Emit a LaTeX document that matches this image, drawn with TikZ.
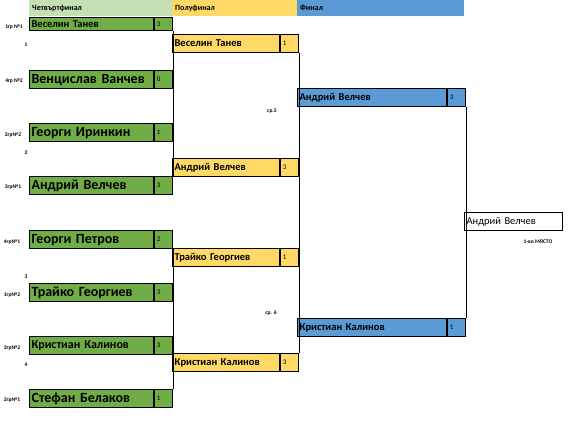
\documentclass[tikz,border=0pt]{standalone}
\usepackage{fontspec}
\setmainfont{Carlito}
\usetikzlibrary{positioning}
\definecolor{hdrgreen}{HTML}{C5E0B4}
\definecolor{qgreen}{HTML}{70AD47}
\definecolor{syellow}{HTML}{FFD966}
\definecolor{fblue}{HTML}{5B9BD5}
\newcommand{\qbig}{\fontsize{14}{16}\selectfont\bfseries}
\newcommand{\qmid}{\fontsize{12}{14}\selectfont\bfseries}
\newcommand{\nsmall}{\fontsize{10.5}{12}\selectfont\bfseries}
\newcommand{\scorefont}{\fontsize{7}{8}\selectfont}

\begin{document}
\begin{tikzpicture}[x=1pt, y=-1pt,
  cell/.style={draw, line width=1.2pt, minimum height=18pt, inner xsep=2pt, inner ysep=0pt,
    align=left, anchor=north west},
  hdr/.style={anchor=north west, minimum height=16pt, inner xsep=3pt, inner ysep=0pt,
    align=left, font=\fontsize{8}{9}\selectfont\bfseries},
  qn/.style={cell, fill=qgreen, text width=120pt, font=\qbig},
  sn/.style={cell, fill=syellow, text width=103pt, font=\nsmall},
  fn/.style={cell, fill=fblue, text width=145pt, font=\nsmall},
  sc/.style={cell, text width=14pt, font=\scorefont},
  lbl/.style={inner sep=0pt, font=\fontsize{5.5}{6}\selectfont\bfseries},
  bracket/.style={draw, line width=1.2pt}]
\useasboundingbox (0,0) rectangle (570,434);
% headers
\node[hdr, fill=hdrgreen, text width=137pt] (h1) at (29,0) {Четвъртфинал};
\node[hdr, fill=syellow, text width=119pt] (h2) at (172,0) {Полуфинал};
\node[hdr, fill=fblue, text width=161pt] (h3) at (297,0) {Финал};
% quarter finals
\node[qn, font=\nsmall, minimum height=13pt] (q1) at (29,17) {Веселин Танев};
\node[sc, fill=qgreen, minimum height=13pt, right=0pt of q1] (q1s) {3};
\node[qn] (q2) at (29,70) {Венцислав Ванчев};
\node[sc, fill=qgreen, right=0pt of q2] (q2s) {0};
\node[qn] (q3) at (29,123) {Георги Иринкин};
\node[sc, fill=qgreen, right=0pt of q3] (q3s) {1};
\node[qn] (q4) at (29,176) {Андрий Велчев};
\node[sc, fill=qgreen, right=0pt of q4] (q4s) {3};
\node[qn] (q5) at (29,230) {Георги Петров};
\node[sc, fill=qgreen, right=0pt of q5] (q5s) {2};
\node[qn] (q6) at (29,283) {Трайко Георгиев};
\node[sc, fill=qgreen, right=0pt of q6] (q6s) {3};
\node[qn, font=\qmid] (q7) at (29,336) {Кристиан Калинов};
\node[sc, fill=qgreen, right=0pt of q7] (q7s) {3};
\node[qn] (q8) at (29,389) {Стефан Белаков};
\node[sc, fill=qgreen, right=0pt of q8] (q8s) {1};
% semi finals
\node[sn] (s1) at (172,34) {Веселин Танев};
\node[sc, fill=syellow, right=0pt of s1] (s1s) {1};
\node[sn] (s2) at (172,158) {Андрий Велчев};
\node[sc, fill=syellow, right=0pt of s2] (s2s) {3};
\node[sn] (s3) at (172,248) {Трайко Георгиев};
\node[sc, fill=syellow, right=0pt of s3] (s3s) {1};
\node[sn] (s4) at (172,353) {Кристиан Калинов};
\node[sc, fill=syellow, right=0pt of s4] (s4s) {3};
% final
\node[fn] (f1) at (297,88) {Андрий Велчев};
\node[sc, fill=fblue, right=0pt of f1] (f1s) {3};
\node[fn] (f2) at (297,318) {Кристиан Калинов};
\node[sc, fill=fblue, right=0pt of f2] (f2s) {1};
\node[cell, fill=white, text width=94pt, font=\fontsize{10.5}{12}\selectfont] (win) at (464,212) {Андрий Велчев};
% brackets
\draw[bracket] (q1s.south east) -- (q4s.north east);
\draw[bracket] (q5s.south east) -- (q8s.north east);
\draw[bracket] (s1s.south east) -- (s4s.north east);
\draw[bracket] (f1s.south east) -- (f2s.north east);
% side labels
\node[lbl] (g1) at (14,27) {1гр №1};
\node[lbl] (m1) at (26,45) {1};
\node[lbl] (g2) at (14,81) {4гр №2};
\node[lbl] (g3) at (13,135) {2гр№2};
\node[lbl] (m2) at (26,153) {2};
\node[lbl] (g4) at (13,187) {3гр№1};
\node[lbl] (g5) at (12,242) {4гр№1};
\node[lbl] (m3) at (26,277) {3};
\node[lbl] (g6) at (12,295) {1гр№2};
\node[lbl] (g7) at (12,348) {3гр№2};
\node[lbl] (m4) at (26,365) {4};
\node[lbl] (g8) at (12,400) {2гр№1};
\node[lbl] (sr5) at (272,111) {ср.5};
\node[lbl] (sr6) at (271,313) {ср. 6};
\node[lbl] (place) at (538,242) {1-во МЯСТО};
\end{tikzpicture}
\end{document}
